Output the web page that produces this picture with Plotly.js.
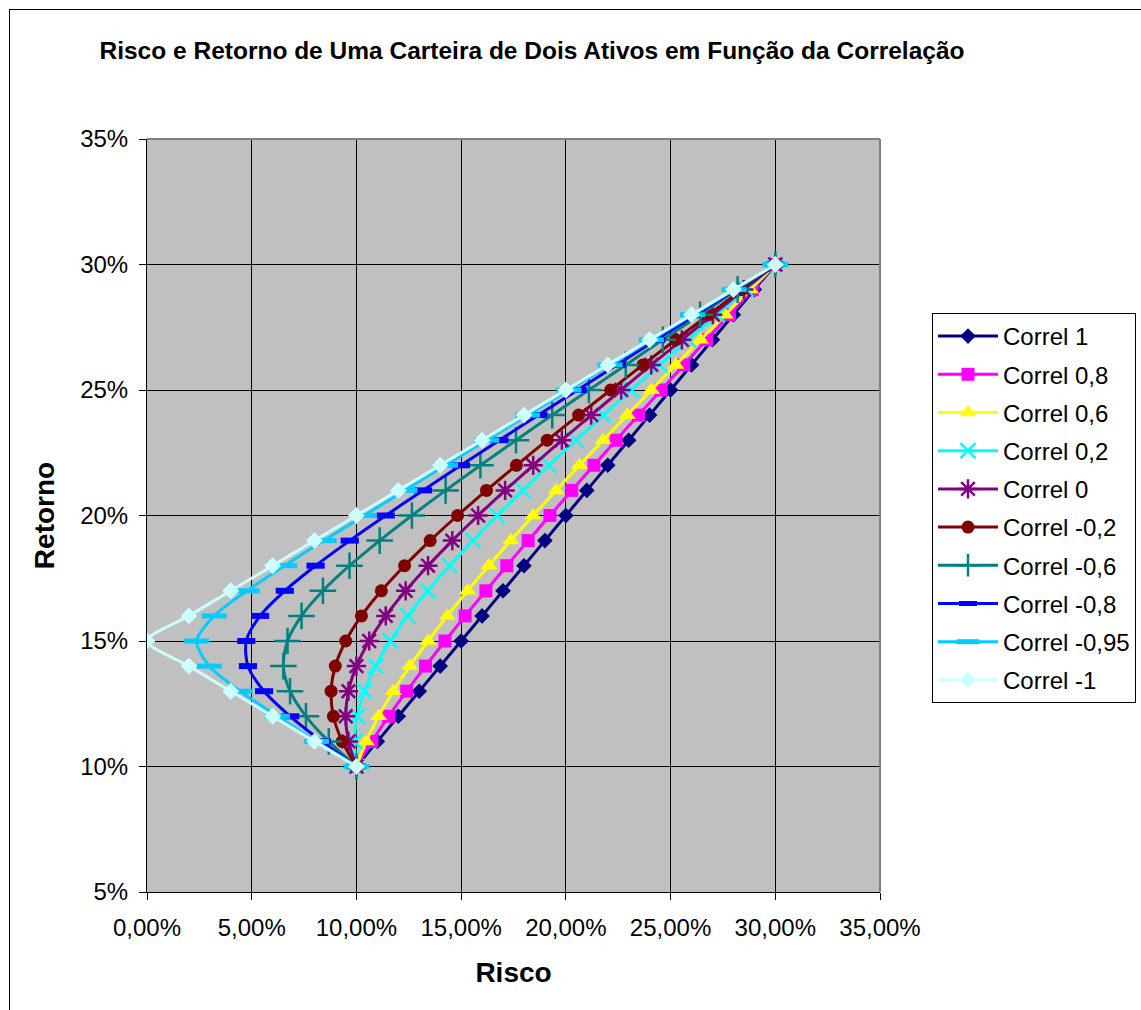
<!DOCTYPE html>
<html>
<head>
<meta charset="utf-8">
<script src="https://cdn.plot.ly/plotly-3.0.1.min.js"></script>
<style>
  html, body { margin: 0; padding: 0; background: #fff; }
  #chart { width: 1141px; height: 1010px; position: absolute; left: 0; top: 0; }
  #frame { position: absolute; left: 9px; top: 9px; width: 1200px; height: 1100px;
           border-left: 1px solid #000; border-top: 1px solid #000; pointer-events: none; }
</style>
</head>
<body>
<div id="chart"></div>
<div id="frame"></div>
<script>
// Returns (%) for each portfolio mix
const retorno = [10,11,12,13,14,15,16,17,18,19,20,21,22,23,24,25,26,27,28,29,30];

// Risk (%) per correlation
const riscoCorrel1    = [10,11,12,13,14,15,16,17,18,19,20,21,22,23,24,25,26,27,28,29,30];
const riscoCorrel08   = [10,10.74,11.54,12.40,13.30,14.23,15.19,16.18,17.18,18.20,19.24,20.28,21.34,22.40,23.47,24.55,25.63,26.72,27.81,28.90,30];
const riscoCorrel06   = [10,10.47,11.06,11.76,12.55,13.42,14.34,15.31,16.32,17.37,18.44,19.53,20.65,21.78,22.93,24.08,25.25,26.43,27.61,28.80,30];
const riscoCorrel02   = [10,9.91,10.04,10.38,10.92,11.62,12.46,13.41,14.45,15.56,16.73,17.95,19.20,20.49,21.80,23.13,24.48,25.84,27.22,28.60,30];
const riscoCorrel0    = [10,9.62,9.49,9.62,10,10.61,11.40,12.35,13.42,14.58,15.81,17.10,18.44,19.81,21.21,22.64,24.08,25.54,27.02,28.50,30];
const riscoCorrelM02  = [10,9.32,8.90,8.79,8.99,9.49,10.24,11.19,12.30,13.52,14.83,16.21,17.64,19.11,20.61,22.14,23.68,25.24,26.82,28.40,30];
const riscoCorrelM06  = [10,8.68,7.59,6.83,6.51,6.71,7.38,8.40,9.67,11.11,12.65,14.26,15.92,17.62,19.35,21.10,22.86,24.63,26.41,28.20,30];
const riscoCorrelM08  = [10,8.35,6.84,5.59,4.82,4.74,5.40,6.58,8.05,9.68,11.40,13.18,14.99,16.83,18.69,20.56,22.43,24.32,26.21,28.10,30];
const riscoCorrelM095 = [10,8.09,6.22,4.45,2.97,2.37,3.21,4.78,6.57,8.45,10.37,12.31,14.25,16.21,18.17,20.14,22.11,24.08,26.05,28.03,30];
const riscoCorrelM1   = [10,8,6,4,2,0,2,4,6,8,10,12,14,16,18,20,22,24,26,28,30];

const seriesNames = ['Correl 1','Correl 0,8','Correl 0,6','Correl 0,2','Correl 0','Correl -0,2','Correl -0,6','Correl -0,8','Correl -0,95','Correl -1'];
const seriesRisk = [riscoCorrel1, riscoCorrel08, riscoCorrel06, riscoCorrel02, riscoCorrel0, riscoCorrelM02, riscoCorrelM06, riscoCorrelM08, riscoCorrelM095, riscoCorrelM1];

const styles = [
  {color:'#000080', symbol:'diamond', size:12, lw:0},
  {color:'#FF00FF', symbol:'square', size:13, lw:0},
  {color:'#FFFF00', symbol:'triangle-up', size:15, lw:0},
  {color:'#00FFFF', symbol:'x-thin-open', size:15, lw:2.5},
  {color:'#800080', symbol:'asterisk-open', size:16, lw:2.5},
  {color:'#800000', symbol:'circle', size:13, lw:0},
  {color:'#008080', symbol:'cross-thin-open', size:19, lw:2.5},
  {color:'#0000FF', symbol:'line-ew-open', size:13, lw:6},
  {color:'#00CCFF', symbol:'line-ew-open', size:18, lw:5},
  {color:'#CCFFFF', symbol:'diamond', size:13, lw:0}
];

const traces = seriesNames.map((name, i) => {
  const s = styles[i];
  return {
    type: 'scatter',
    mode: 'lines+markers',
    name: name,
    legendgroup: 'g' + i,
    x: seriesRisk[i],
    y: retorno,
    line: {color: s.color, width: 3, shape: 'spline', smoothing: 0.8},
    marker: {color: s.color, symbol: s.symbol, size: s.size,
             line: {color: s.color, width: s.lw}},
    hoverinfo: 'x+y+name'
  };
});

const font = 'Liberation Sans, Arial, sans-serif';

const layout = {
  width: 1141, height: 1010,
  margin: {l: 147, r: 261, t: 139, b: 118, autoexpand: false},
  paper_bgcolor: 'rgba(255,255,255,1)',
  plot_bgcolor: '#C0C0C0',
  separators: ',.',
  font: {family: font, color: '#000'},
  showlegend: true,
  title: {
    text: 'Risco e Retorno de Uma Carteira de Dois Ativos em Função da Correlação',
    font: {family: font, size: 24.5, weight: 'bold', color: '#000'},
    x: 532/1141, xanchor: 'center', xref: 'container',
    y: 1 - 50/1010, yanchor: 'middle', yref: 'container'
  },
  xaxis: {
    range: [0, 35], tick0: 0, dtick: 5, tickmode: 'linear',
    tickformat: ',.2f', ticksuffix: '%',
    ticks: 'outside', ticklen: 7, tickcolor: '#000', tickwidth: 1,
    ticklabelstandoff: 7,
    showgrid: true, gridcolor: '#000', gridwidth: 1,
    showline: true, linecolor: '#000', linewidth: 1, zeroline: false,
    tickfont: {family: font, size: 24, color: '#000'},
    title: {text: 'Risco', font: {family: font, size: 28, weight: 'bold', color: '#000'}, standoff: 22}
  },
  yaxis: {
    range: [5, 35], tick0: 5, dtick: 5, tickmode: 'linear',
    tickformat: 'd', ticksuffix: '%',
    ticks: 'outside', ticklen: 7, tickcolor: '#000', tickwidth: 1,
    ticklabelstandoff: 6,
    showgrid: true, gridcolor: '#000', gridwidth: 1,
    showline: true, linecolor: '#000', linewidth: 1, zeroline: false,
    tickfont: {family: font, size: 24, color: '#000'},
    title: {text: 'Retorno', font: {family: font, size: 28, weight: 'bold', color: '#000'}, standoff: 17}
  },
  legend: {
    x: (932 - 147) / 733, xanchor: 'left',
    y: (892 - 313) / 753, yanchor: 'top',
    bgcolor: '#fff', bordercolor: '#000', borderwidth: 1,
    font: {family: font, size: 24, color: '#000'},
    traceorder: 'grouped', tracegroupgap: 4,
    itemwidth: 60
  },
  shapes: [
    {type: 'line', xref: 'paper', yref: 'paper', x0: 0, x1: 1, y0: 1, y1: 1, line: {color: '#808080', width: 2}},
    {type: 'line', xref: 'paper', yref: 'paper', x0: 1, x1: 1, y0: 0, y1: 1, line: {color: '#808080', width: 2}}
  ]
};

Plotly.newPlot('chart', traces, layout, {displayModeBar: false, staticPlot: true});
</script>
</body>
</html>
